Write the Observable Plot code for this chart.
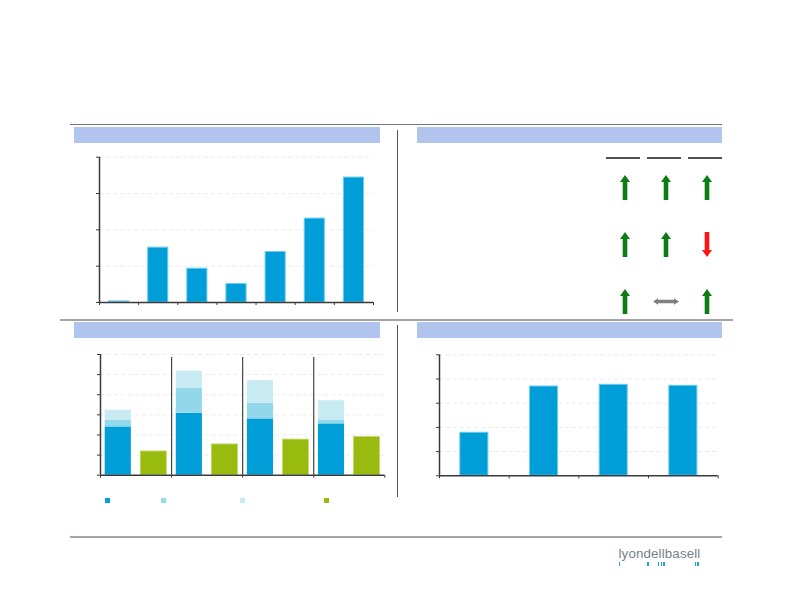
<!DOCTYPE html>
<html>
<head>
<meta charset="utf-8">
<script src="https://cdn.jsdelivr.net/npm/d3@7"></script>
<script src="https://cdn.jsdelivr.net/npm/@observablehq/plot@0.6"></script>
<style>
  html, body { margin: 0; padding: 0; background: #ffffff; }
  #slide { position: relative; width: 792px; height: 612px; overflow: hidden; font-family: "Liberation Sans", Arial, sans-serif; }
  .abs { position: absolute; }
  .abs svg { display: block; overflow: visible; }
</style>
</head>
<body>
<div id="slide"></div>
<script>
// ---------- DATA ----------
// Panel 1 (top-left): single series bar chart
const p1Categories = ["C1", "C2", "C3", "C4", "C5", "C6", "C7"];
const p1Values = [0.03, 1.51, 0.93, 0.51, 1.39, 2.31, 3.44];
const p1Ticks = [0, 1, 2, 3, 4];

// Panel 2 (top-right): trend arrows table
const trendRows = ["R1", "R2", "R3"];
const trendCols = ["K1", "K2", "K3"];
const trendK1 = ["up", "up", "up"];
const trendK2 = ["up", "up", "flat"];
const trendK3 = ["up", "down", "up"];

// Panel 3 (bottom-left): grouped stacked bars + green bar
const p3Groups = ["G1", "G2", "G3", "G4"];
const p3Series = ["S1", "S2", "S3", "S4"];
const p3Base = [2.40, 3.08, 2.80, 2.55];
const p3Mid = [0.33, 1.25, 0.78, 0.17];
const p3Top = [0.50, 0.84, 1.12, 0.98];
const p3Green = [1.18, 1.53, 1.77, 1.90];
const p3Ticks = [0, 1, 2, 3, 4, 5, 6];

// Panel 4 (bottom-right): single series bars
const p4Categories = ["D1", "D2", "D3", "D4"];
const p4Values = [1.78, 3.69, 3.76, 3.72];
const p4Ticks = [0, 1, 2, 3, 4, 5];

// ---------- STYLE ----------
const BLUE = "#009ed8", BLUE_EDGE = "#72ccee";
const MID = "#93d7ea", LIGHT = "#c8eaf3", GREEN = "#99bb0f", GREEN_EDGE = "#c4d870";
const AXIS = "#3a3a3a", GRID = "#ebebeb";
const HEADER = "#b0c4ee";

const slide = document.getElementById("slide");
function box(x, y, w, h, bg) {
  const d = document.createElement("div");
  d.className = "abs";
  Object.assign(d.style, { left: x + "px", top: y + "px", width: w + "px", height: h + "px", background: bg });
  slide.appendChild(d);
  return d;
}
function place(node, x, y) {
  const d = document.createElement("div");
  d.className = "abs";
  d.style.left = x + "px"; d.style.top = y + "px";
  d.appendChild(node);
  slide.appendChild(d);
}

// Slide decoration: separators and header bands
box(70, 123.5, 652, 1.5, "#767676");
box(60, 318.5, 673, 2, "#a4a4a4");
box(70, 536, 652, 2, "#9ea8aa");
box(397, 130, 1, 182, "#5a5a5a");
box(397, 325, 1, 172, "#5a5a5a");
box(74, 126.5, 306, 16, HEADER);
box(416.5, 126.5, 305.5, 16, HEADER);
box(74, 322.3, 306, 16, HEADER);
box(416.5, 322.3, 305.5, 16, HEADER);

const noText = () => "";

// ---------- PANEL 1 ----------
const p1Table = p1Categories.map((c, i) => ({ cat: c, x1: i, x2: i + 1, v: p1Values[i] }));
const p1 = Plot.plot({
  width: 300, height: 162,
  marginLeft: 20, marginRight: 6, marginTop: 10.7, marginBottom: 6,
  x: { type: "linear", domain: [0, p1Categories.length], axis: null },
  y: { domain: [0, 4], axis: null },
  marks: [
    Plot.gridY(p1Ticks.slice(1), { stroke: GRID, strokeOpacity: 1, strokeDasharray: "4,3" }),
    Plot.rectY(p1Table, { x1: "x1", x2: "x2", y: "v", fill: BLUE, stroke: BLUE_EDGE, strokeWidth: 1, insetLeft: 9.5, insetRight: 9.5 }),
    Plot.axisX({ ticks: d3.range(0, p1Categories.length + 1), tickSize: 3, tickFormat: noText, label: null, stroke: AXIS }),
    Plot.axisY({ ticks: p1Ticks, tickSize: 3, tickFormat: noText, label: null, stroke: AXIS }),
    Plot.ruleY([0], { stroke: AXIS, strokeWidth: 1.5 }),
    Plot.ruleX([0], { stroke: AXIS, strokeWidth: 1.5 })
  ]
});
place(p1, 79, 146);

// ---------- PANEL 2 ----------
const trendCells = [];
[trendK1, trendK2, trendK3].forEach((col, ci) => col.forEach((dir, ri) => trendCells.push({ row: trendRows[ri], col: trendCols[ci], dir })));
const blockArrow = {
  draw(ctx, l) {
    const sw = 2.3, hw = 5, hl = 7;
    ctx.moveTo(-sw, 0);
    ctx.lineTo(-sw, -l + hl);
    ctx.lineTo(-hw, -l + hl);
    ctx.lineTo(0, -l);
    ctx.lineTo(hw, -l + hl);
    ctx.lineTo(sw, -l + hl);
    ctx.lineTo(sw, 0);
    ctx.closePath();
  }
};
const doubleArrow = {
  draw(ctx, l) {
    const sw = 1.7, hw = 3.3, hl = 5;
    ctx.moveTo(0, 0);
    ctx.lineTo(-hw, -hl);
    ctx.lineTo(-sw, -hl);
    ctx.lineTo(-sw, -l + hl);
    ctx.lineTo(-hw, -l + hl);
    ctx.lineTo(0, -l);
    ctx.lineTo(hw, -l + hl);
    ctx.lineTo(sw, -l + hl);
    ctx.lineTo(sw, -hl);
    ctx.lineTo(hw, -hl);
    ctx.closePath();
  }
};
const p2 = Plot.plot({
  width: 140, height: 180,
  marginLeft: 0, marginRight: 0, marginTop: 0, marginBottom: 0,
  x: { type: "band", domain: trendCols, range: [15, 132], paddingInner: 0.18, paddingOuter: 0, axis: null },
  y: { type: "point", domain: trendRows, range: [41.5, 156], padding: 0, axis: null },
  marks: [
    Plot.tickY(trendCols, { x: d => d, y: () => trendRows[0], dy: -29.5, stroke: "#1a1a1a", strokeWidth: 1.5 }),
    Plot.vector(trendCells.filter(d => d.dir === "up"), { x: "col", y: "row", dx: 1.5, length: 25, rotate: 0, anchor: "middle", shape: blockArrow, fill: "#0b7d12", stroke: "none" }),
    Plot.vector(trendCells.filter(d => d.dir === "down"), { x: "col", y: "row", dx: 1.5, length: 25, rotate: 180, anchor: "middle", shape: blockArrow, fill: "#ff1414", stroke: "none" }),
    Plot.vector(trendCells.filter(d => d.dir === "flat"), { x: "col", y: "row", dx: 1.5, length: 26, rotate: 90, anchor: "middle", shape: doubleArrow, fill: "#808080", stroke: "none" })
  ]
});
place(p2, 590, 145);

// ---------- PANEL 3 ----------
const p3Stack = [];
p3Groups.forEach((g, i) => {
  let acc = 0;
  [[p3Series[0], p3Base[i]], [p3Series[1], p3Mid[i]], [p3Series[2], p3Top[i]]].forEach(([s, v]) => {
    p3Stack.push({ group: g, series: s, x1: i, x2: i + 0.5, y1: acc, y2: acc + v });
    acc += v;
  });
});
const p3GreenTable = p3Groups.map((g, i) => ({ group: g, series: p3Series[3], x1: i + 0.5, x2: i + 1, v: p3Green[i] }));
const p3Colors = { [p3Series[0]]: BLUE, [p3Series[1]]: MID, [p3Series[2]]: LIGHT };
const p3 = Plot.plot({
  width: 310, height: 140,
  marginLeft: 20, marginRight: 5.7, marginTop: 10, marginBottom: 9.3,
  x: { type: "linear", domain: [0, p3Groups.length], axis: null },
  y: { domain: [0, 6], axis: null },
  marks: [
    Plot.gridY(p3Ticks.slice(1), { stroke: GRID, strokeOpacity: 1, strokeDasharray: "4,3" }),
    Plot.rect(p3Stack, { x1: "x1", x2: "x2", y1: "y1", y2: "y2", fill: d => p3Colors[d.series], insetLeft: 4.7, insetRight: 4.7 }),
    Plot.rectY(p3GreenTable, { x1: "x1", x2: "x2", y: "v", fill: GREEN, stroke: GREEN_EDGE, strokeWidth: 0.8, insetLeft: 4.7, insetRight: 4.7 }),
    Plot.ruleX(d3.range(1, p3Groups.length), { y1: 0, y2: 6, stroke: "#444", strokeWidth: 1.2, insetBottom: -3 }),
    Plot.axisX({ ticks: d3.range(0, p3Groups.length + 1), tickSize: 3, tickFormat: noText, label: null, stroke: AXIS }),
    Plot.axisY({ ticks: p3Ticks, tickSize: 3, tickFormat: noText, label: null, stroke: AXIS }),
    Plot.ruleY([0], { stroke: AXIS, strokeWidth: 1.5 }),
    Plot.ruleX([0], { stroke: AXIS, strokeWidth: 1.5 })
  ]
});
place(p3, 80, 344);

// Panel 3 legend swatches (below the chart)
const legendX = [105, 161.2, 239.8, 324.2];
p3Series.forEach((s, i) => box(legendX[i], 498.2, 5, 5, i < 3 ? p3Colors[s] : GREEN));

// ---------- PANEL 4 ----------
const p4Table = p4Categories.map((c, i) => ({ cat: c, x1: i, x2: i + 1, v: p4Values[i] }));
const p4 = Plot.plot({
  width: 305, height: 140,
  marginLeft: 20, marginRight: 6.3, marginTop: 10.3, marginBottom: 8.7,
  x: { type: "linear", domain: [0, p4Categories.length], axis: null },
  y: { domain: [0, 5], axis: null },
  marks: [
    Plot.gridY(p4Ticks.slice(1), { stroke: GRID, strokeOpacity: 1, strokeDasharray: "4,3" }),
    Plot.rectY(p4Table, { x1: "x1", x2: "x2", y: "v", fill: BLUE, stroke: BLUE_EDGE, strokeWidth: 1, insetLeft: 20.8, insetRight: 20.8 }),
    Plot.axisX({ ticks: d3.range(0, p4Categories.length + 1), tickSize: 3, tickFormat: noText, label: null, stroke: AXIS }),
    Plot.axisY({ ticks: p4Ticks, tickSize: 3, tickFormat: noText, label: null, stroke: AXIS }),
    Plot.ruleY([0], { stroke: AXIS, strokeWidth: 1.5 }),
    Plot.ruleX([0], { stroke: AXIS, strokeWidth: 1.5 })
  ]
});
place(p4, 419, 344);

// ---------- LOGO ----------
const logo = document.createElement("div");
logo.className = "abs";
logo.textContent = "lyondellbasell";
Object.assign(logo.style, { left: "618.5px", top: "546px", fontSize: "13.3px", color: "#76828c", fontFamily: "'Liberation Sans', Arial, sans-serif", lineHeight: "16px", letterSpacing: "0.15px" });
slide.appendChild(logo);
[619.3, 648, 658.7, 661.3, 664, 695.3, 698].forEach(x => box(x - 0.6, 562.3, 1.3, 3.5, "#2a9fd6"));
</script>
</body>
</html>
